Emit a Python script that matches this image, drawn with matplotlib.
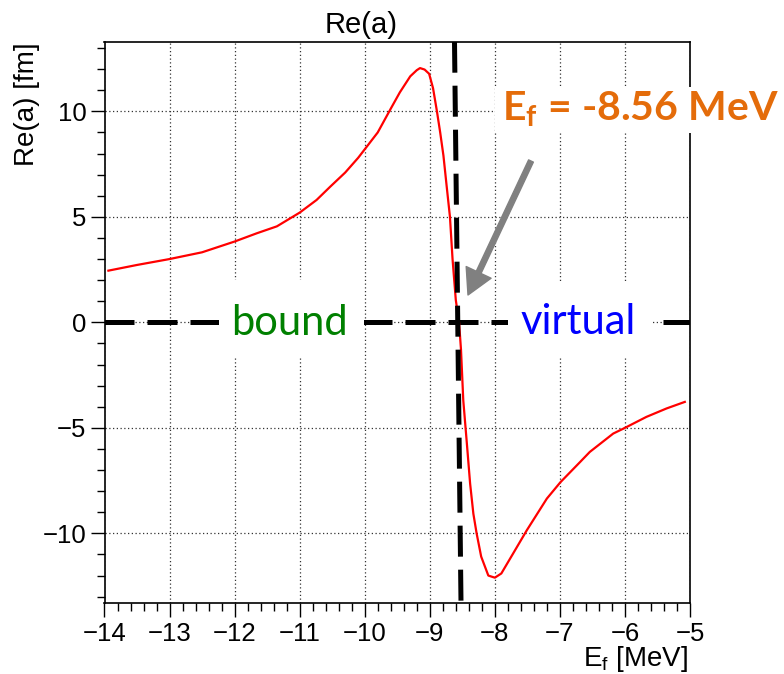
import matplotlib
matplotlib.use("Agg")
import matplotlib.pyplot as plt
from matplotlib.patches import Rectangle, FancyArrowPatch
from matplotlib.ticker import MultipleLocator

plt.rcParams['font.family'] = ['Liberation Sans', 'DejaVu Sans']

# ---- data ----
energy = [-13.94, -13.5, -13.0, -12.5, -12.0, -11.66, -11.35, -11.0, -10.74, -10.53,
          -10.3, -10.1, -10.0, -9.8, -9.61, -9.46, -9.3, -9.2, -9.15, -9.08,
          -9.01, -8.95, -8.89, -8.84, -8.79, -8.74, -8.69, -8.65, -8.60, -8.55,
          -8.52, -8.485, -8.43, -8.38, -8.33, -8.28, -8.21, -8.10, -8.0, -7.90,
          -7.72, -7.51, -7.20, -6.99, -6.69, -6.54, -6.18, -6.0, -5.67, -5.36, -5.08]
re_a = [2.45, 2.72, 3.0, 3.32, 3.83, 4.22, 4.55, 5.2, 5.8, 6.43,
        7.1, 7.8, 8.2, 9.0, 10.07, 10.9, 11.66, 11.95, 12.05, 11.98,
        11.78, 11.1, 10.0, 9.0, 7.9, 6.44, 5.0, 3.0, 1.06, 0.0,
        -1.3, -3.7, -5.74, -7.64, -9.07, -10.0, -11.1, -12.0, -12.1, -11.9,
        -10.96, -9.86, -8.35, -7.57, -6.62, -6.14, -5.27, -5.0, -4.48, -4.08, -3.77]

xlim = (-14, -5)
ylim = (-13.3, 13.3)
vline_x = (-8.62, -8.52)   # slightly slanted marker line (top, bottom)
zero_level = 0.0

title = "Re(a)"
xlabel = r"E$_{\mathregular{f}}$ [MeV]"
ylabel = "Re(a) [fm]"
label_bound = "bound"
label_virtual = "virtual"
label_ef = r"E$_{\mathregular{f}}$ = -8.56 MeV"

W, H = 784, 674
fig = plt.figure(figsize=(W / 100, H / 100), dpi=100)

def fx(px):
    return px / W

def fy(py):
    return 1 - py / H

ax = fig.add_axes([fx(104.5), fy(603), (690 - 104.5) / W, (603 - 41.7) / H])
ax.set_xlim(*xlim)
ax.set_ylim(*ylim)

ax.xaxis.set_major_locator(MultipleLocator(1))
ax.xaxis.set_minor_locator(MultipleLocator(0.2))
ax.yaxis.set_major_locator(MultipleLocator(5))
ax.yaxis.set_minor_locator(MultipleLocator(1))
ax.tick_params(which='both', direction='out', top=False, right=False, width=1.0, labelsize=18.5)
ax.tick_params(which='major', length=10)
ax.tick_params(which='minor', length=5.5)
ax.tick_params(axis='x', pad=4)
ax.tick_params(axis='y', pad=3)
for s in ax.spines.values():
    s.set_linewidth(1.2)

ax.grid(which='major', linestyle=(0, (1, 2)), color='#333333', linewidth=0.9, zorder=0)
ax.set_axisbelow(True)

ax.plot(energy, re_a, color='red', lw=1.6, zorder=3)
ax.plot(list(xlim), [zero_level, zero_level], color='black', lw=3.6,
        dashes=(6.0, 2.6), zorder=2.8, solid_capstyle='butt', dash_capstyle='butt')
ax.plot(list(vline_x), [ylim[1], ylim[0]], color='black', lw=3.6,
        dashes=(6.2, 2.6), zorder=3.5, dash_capstyle='butt')

# white text boxes (cover grid and lines like the slide text boxes)
for (x0, x1, y0, y1) in [(219, 364, 280, 356), (508, 651, 281, 356), (495, 784, 87, 133)]:
    fig.add_artist(Rectangle((fx(x0), fy(y1)), (x1 - x0) / W, (y1 - y0) / H,
                             transform=fig.transFigure, facecolor='white',
                             edgecolor='none', zorder=1))

fig.text(fx(289), fy(335), label_bound, color='#008000', fontsize=30, family='Lato',
         ha='center', va='baseline', zorder=2)
fig.text(fx(578), fy(334), label_virtual, color='#0000FF', fontsize=30, family='Lato',
         ha='center', va='baseline', zorder=2)
fig.text(fx(502), fy(120), label_ef, color='#E46C0A', fontsize=29.5, family='Lato',
         fontweight='bold', ha='left', va='baseline', zorder=2)

arrow = FancyArrowPatch((fx(531), fy(161)), (fx(468), fy(295)), transform=fig.transFigure,
                        arrowstyle='simple,head_length=1.0,head_width=1.1,tail_width=0.21',
                        mutation_scale=18, color='#808080', shrinkA=0, shrinkB=0, zorder=2)
fig.add_artist(arrow)

fig.text(fx(361.5), fy(33.3), title, fontsize=21, ha='center', va='baseline')
fig.text(fx(27), fy(42), ylabel, fontsize=20, rotation=90, ha='center', va='top')
fig.text(fx(688), fy(666), xlabel, fontsize=20, ha='right', va='baseline')

fig.savefig("out.png", dpi=100)
